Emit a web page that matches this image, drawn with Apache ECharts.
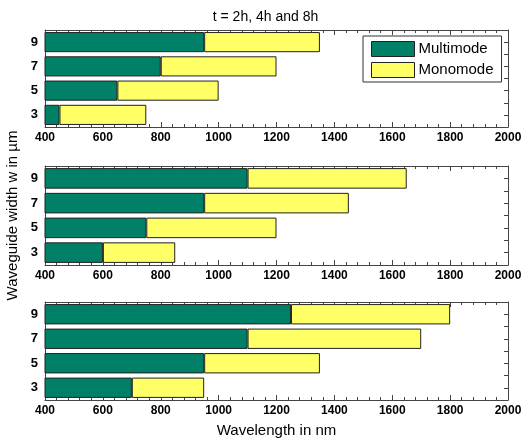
<!DOCTYPE html>
<html>
<head>
<meta charset="utf-8">
<script src="https://cdn.jsdelivr.net/npm/echarts@6/dist/echarts.min.js"></script>
<style>html,body{margin:0;padding:0;background:#fff}#c{width:531px;height:440px}</style>
</head>
<body>
<div id="c"></div>
<script>
const widths = ['3', '5', '7', '9'];
const multi2h = [450, 650, 800, 950];
const mono2h = [750, 1000, 1200, 1350];
const multi4h = [600, 750, 950, 1100];
const mono4h = [850, 1200, 1450, 1650];
const multi8h = [700, 950, 1100, 1250];
const mono8h = [950, 1350, 1700, 1800];
const xTicks = [400, 600, 800, 1000, 1200, 1400, 1600, 1800, 2000];
const panels = [[multi2h, mono2h], [multi4h, mono4h], [multi8h, mono8h]];

const FONT = 'Liberation Sans, Arial, sans-serif';
const GREEN = '#008066';
const YELLOW = '#FFFF66';
const EDGE = '#222';
const FRAME = '#444';
const grids = [
  {left: 45, right: 23, top: 30, height: 97, outerBoundsMode: 'none', containLabel: false},
  {left: 45, right: 23, top: 166, height: 99, outerBoundsMode: 'none', containLabel: false},
  {left: 45, right: 23, top: 302, height: 98, outerBoundsMode: 'none', containLabel: false}
];
const xAxis = [], yAxis = [], series = [];
panels.forEach((p, i) => {
  xAxis.push({
    type: 'value', gridIndex: i, position: 'bottom',
    min: xTicks[0], max: xTicks[xTicks.length - 1], interval: xTicks[1] - xTicks[0],
    axisLine: {show: true, lineStyle: {color: FRAME, width: 1}},
    axisTick: {inside: true, length: 5, lineStyle: {color: FRAME}},
    minorTick: {show: true, splitNumber: 5, length: 3, lineStyle: {color: FRAME}},
    splitLine: {show: false},
    axisLabel: {color: '#000', fontFamily: FONT, fontSize: 12, fontWeight: 'bold', margin: 5,
      formatter: v => String(v)},
    name: i === 2 ? 'Wavelength in nm' : '', nameLocation: 'middle', nameGap: 23,
    nameTextStyle: {color: '#000', fontFamily: FONT, fontSize: 15}
  });
  xAxis.push({
    type: 'value', gridIndex: i, position: 'top',
    min: xTicks[0], max: xTicks[xTicks.length - 1], interval: xTicks[1] - xTicks[0],
    axisLine: {show: true, lineStyle: {color: FRAME, width: 1}},
    axisTick: {inside: true, length: 5, lineStyle: {color: FRAME}},
    minorTick: {show: true, splitNumber: 5, length: 3, lineStyle: {color: FRAME}},
    splitLine: {show: false}, axisLabel: {show: false}
  });
  yAxis.push({
    type: 'category', gridIndex: i, position: 'left', data: widths,
    axisLine: {show: true, lineStyle: {color: FRAME, width: 1}},
    axisTick: {inside: true, length: 3, lineStyle: {color: FRAME}},
    axisLabel: {color: '#000', fontFamily: FONT, fontSize: 13, fontWeight: 'bold', margin: 7},
    name: i === 1 ? 'Waveguide width w in \u00b5m' : '', nameLocation: 'middle', nameGap: 22,
    nameRotate: 90,
    nameTextStyle: {color: '#000', fontFamily: FONT, fontSize: 15}
  });
  yAxis.push({
    type: 'value', gridIndex: i, position: 'right', min: 2, max: 10, interval: 1,
    axisLine: {show: true, lineStyle: {color: FRAME, width: 1}},
    axisTick: {inside: true, length: 4, lineStyle: {color: FRAME}},
    splitLine: {show: false}, axisLabel: {show: false}
  });
  const multi = p[0], mono = p[1];
  series.push({
    name: 'Multimode', type: 'bar', xAxisIndex: 2 * i, yAxisIndex: 2 * i,
    stack: 's' + i, data: multi, barCategoryGap: '17%',
    itemStyle: {color: GREEN, borderColor: EDGE, borderWidth: 1}, silent: true
  });
  series.push({
    name: 'Monomode', type: 'bar', xAxisIndex: 2 * i, yAxisIndex: 2 * i,
    stack: 's' + i, data: mono.map((v, k) => v - multi[k]), barCategoryGap: '17%',
    itemStyle: {color: YELLOW, borderColor: EDGE, borderWidth: 1}, silent: true
  });
});

const chart = echarts.init(document.getElementById('c'), null, {renderer: 'canvas'});
chart.setOption({
  animation: false,
  backgroundColor: '#fff',
  title: {
    text: 't = 2h, 4h and 8h', left: 'center', top: 5,
    textStyle: {color: '#000', fontFamily: FONT, fontSize: 14, fontWeight: 'normal'}
  },
  legend: {
    data: ['Multimode', 'Monomode'], orient: 'vertical', left: 363, top: 36,
    icon: 'rect', itemWidth: 43, itemHeight: 15, itemGap: 5,
    padding: [5, 8, 4, 8], borderColor: '#333', borderWidth: 1, backgroundColor: '#fff',
    itemStyle: {borderColor: EDGE, borderWidth: 1},
    textStyle: {color: '#000', fontFamily: FONT, fontSize: 15, padding: [0, 0, 0, -1]},
    selectedMode: false
  },
  grid: grids,
  xAxis: xAxis,
  yAxis: yAxis,
  series: series
});
</script>
</body>
</html>
